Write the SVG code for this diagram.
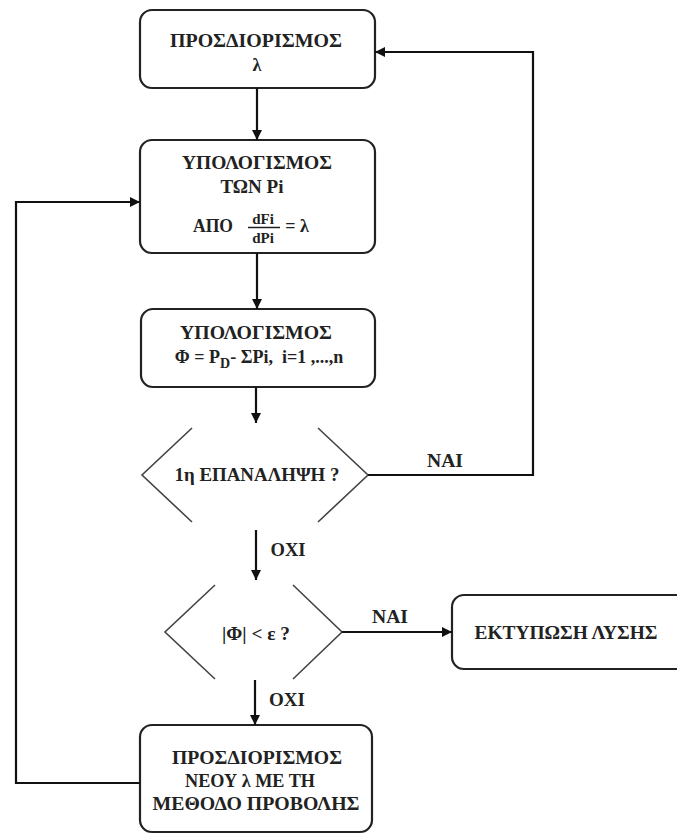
<svg xmlns="http://www.w3.org/2000/svg" width="677" height="835" viewBox="0 0 677 835">
<defs>
<marker id="ah" viewBox="0 0 10 10" refX="10" refY="5" markerWidth="10" markerHeight="10" markerUnits="userSpaceOnUse" orient="auto">
<path d="M0,0 L10,5 L0,10 z" fill="#111"/>
</marker>
<style>
.box{fill:#fff;stroke:#222;stroke-width:2.2}
.dia{fill:none;stroke:#444;stroke-width:1.6}
.t{font-family:"Liberation Serif","DejaVu Serif","Times New Roman",serif;font-weight:bold;font-size:18px;fill:#222;text-anchor:middle}
.s{font-size:15px}
.ln{fill:none;stroke:#111;stroke-width:2.2}
</style>
</defs>
<rect width="677" height="835" fill="#fff"/>
<g id="n1">
<rect class="box" x="140" y="10" width="235" height="78" rx="12"/>
<text class="t" x="256" y="47" textLength="172" lengthAdjust="spacingAndGlyphs">ΠΡΟΣΔΙΟΡΙΣΜΟΣ</text>
<text class="t" x="257" y="71">λ</text>
</g>
<g id="n2">
<rect class="box" x="140" y="140" width="235" height="113" rx="12"/>
<text class="t" x="257" y="169" textLength="150" lengthAdjust="spacingAndGlyphs">ΥΠΟΛΟΓΙΣΜΟΣ</text>
<text class="t" x="252" y="193" textLength="63" lengthAdjust="spacingAndGlyphs">ΤΩΝ Pi</text>
<text class="t" x="213" y="232" textLength="40" lengthAdjust="spacingAndGlyphs">ΑΠΟ</text>
<text class="t s" x="263" y="224">dFi</text>
<line x1="248" y1="227.5" x2="280" y2="227.5" stroke="#222" stroke-width="1.5"/>
<text class="t s" x="263" y="243">dPi</text>
<text class="t" x="297" y="232">= λ</text>
</g>
<g id="n3">
<rect class="box" x="141" y="309" width="234" height="78" rx="12"/>
<text class="t" x="256" y="339" textLength="152" lengthAdjust="spacingAndGlyphs">ΥΠΟΛΟΓΙΣΜΟΣ</text>
<text class="t" x="259" y="363" xml:space="preserve">Φ = P<tspan dy="5" font-size="14">D</tspan><tspan dy="-5">- ΣPi,  i=1 ,...,n</tspan></text>
</g>
<g id="n4">
<path class="dia" d="M192,428 L142,475 L192,522 M318,428 L368,475 L318,522"/>
<text class="t" x="257" y="481" textLength="165" lengthAdjust="spacingAndGlyphs">1η ΕΠΑΝΑΛΗΨΗ ?</text>
</g>
<g id="n5">
<path class="dia" d="M215,585 L165,632 L215,679 M293,585 L342,632 L293,679"/>
<text class="t" x="256" y="640" textLength="68" lengthAdjust="spacingAndGlyphs">|Φ| &lt; ε ?</text>
</g>
<g id="n6">
<rect class="box" x="452" y="595" width="240" height="74" rx="12"/>
<text class="t" x="566" y="639" textLength="183" lengthAdjust="spacingAndGlyphs">ΕΚΤΥΠΩΣΗ ΛΥΣΗΣ</text>
</g>
<g id="n7">
<rect class="box" x="140" y="725" width="232" height="107" rx="12"/>
<text class="t" x="257" y="764" textLength="170" lengthAdjust="spacingAndGlyphs">ΠΡΟΣΔΙΟΡΙΣΜΟΣ</text>
<text class="t" x="250" y="787" textLength="130" lengthAdjust="spacingAndGlyphs">ΝΕΟΥ λ ΜΕ ΤΗ</text>
<text class="t" x="256" y="810" textLength="207" lengthAdjust="spacingAndGlyphs">ΜΕΘΟΔΟ ΠΡΟΒΟΛΗΣ</text>
</g>
<g id="connectors">
<line class="ln" x1="257" y1="88" x2="257" y2="140" marker-end="url(#ah)"/>
<line class="ln" x1="257" y1="253" x2="257" y2="309" marker-end="url(#ah)"/>
<line class="ln" x1="256" y1="387" x2="256" y2="423" marker-end="url(#ah)"/>
<line class="ln" x1="256" y1="530" x2="256" y2="580" marker-end="url(#ah)"/>
<line class="ln" x1="255" y1="680" x2="255" y2="725" marker-end="url(#ah)"/>
<polyline class="ln" points="368,475 533,475 533,52 375,52" marker-end="url(#ah)"/>
<line class="ln" x1="342" y1="632" x2="452" y2="632" marker-end="url(#ah)"/>
<polyline class="ln" points="140,783 16,783 16,202 140,202" marker-end="url(#ah)"/>
<text class="t" x="445" y="467" textLength="36" lengthAdjust="spacingAndGlyphs">ΝΑΙ</text>
<text class="t" x="288" y="556" textLength="35" lengthAdjust="spacingAndGlyphs">ΟΧΙ</text>
<text class="t" x="390" y="623" textLength="36" lengthAdjust="spacingAndGlyphs">ΝΑΙ</text>
<text class="t" x="287" y="706" textLength="36" lengthAdjust="spacingAndGlyphs">ΟΧΙ</text>
</g>
</svg>
